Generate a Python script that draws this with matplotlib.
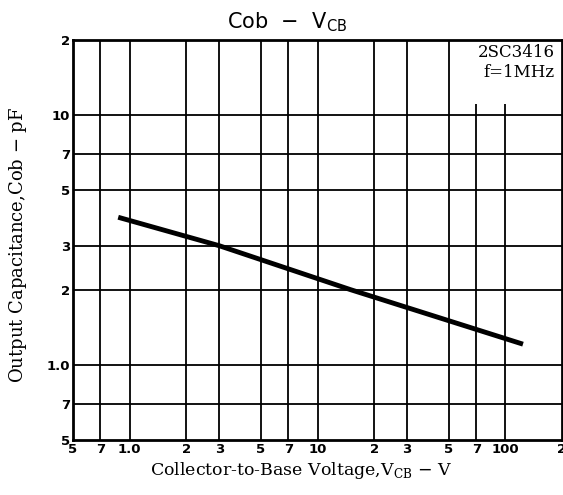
import matplotlib.pyplot as plt
from matplotlib.patches import Rectangle
from matplotlib.ticker import FixedLocator, FixedFormatter, NullLocator

# curva Cob - VCB
vcb = [0.87, 3.0, 15.0, 124.0]
cob = [3.9, 3.0, 2.0, 1.21]

# ticks
x_ticks = [0.5, 0.7, 1, 2, 3, 5, 7, 10, 20, 30, 50, 70, 100, 200]
x_labels = ['5', '7', '1.0', '2', '3', '5', '7', '10', '2', '3', '5', '7', '100', '2']
y_ticks = [0.5, 0.7, 1, 2, 3, 5, 7, 10, 20]
y_labels = ['5', '7', '1.0', '2', '3', '5', '7', '10', '2']

fig = plt.figure(figsize=(5.63, 4.95), dpi=100)
ax = fig.add_axes([73 / 563, 55 / 495, 489 / 563, 400 / 495])
ax.set_xscale('log')
ax.set_yscale('log')
ax.set_xlim(0.5, 200)
ax.set_ylim(0.5, 20)

# rejilla
for xv in x_ticks[1:-1]:
    ax.axvline(xv, color='black', lw=1.3, zorder=1)
for yv in y_ticks[1:-1]:
    ax.axhline(yv, color='black', lw=1.3, zorder=1)

ax.plot(vcb, cob, color='black', lw=3.5, solid_capstyle='butt', zorder=3)

for s in ax.spines.values():
    s.set_linewidth(2)

ax.xaxis.set_major_locator(FixedLocator(x_ticks))
ax.xaxis.set_major_formatter(FixedFormatter(x_labels))
ax.yaxis.set_major_locator(FixedLocator(y_ticks))
ax.yaxis.set_major_formatter(FixedFormatter(y_labels))
ax.xaxis.set_minor_locator(NullLocator())
ax.yaxis.set_minor_locator(NullLocator())
ax.tick_params(length=0, pad=2, labelsize=9.5)
for lab in ax.get_xticklabels() + ax.get_yticklabels():
    lab.set_fontweight('bold')

# recuadro del tipo (tapa la rejilla)
ax.add_patch(Rectangle((0.77, 0.84), 0.23, 0.16, transform=ax.transAxes,
                       facecolor='white', edgecolor='none', zorder=2))
ax.text(0.985, 0.99, '2SC3416\nf=1MHz', transform=ax.transAxes, ha='right', va='top',
        family='DejaVu Serif', fontsize=12, linespacing=1.2, zorder=4)

fig.text(0.51, 0.955, 'Cob  $-$  V$_{\\mathregular{CB}}$', ha='center', va='center', fontsize=15)
fig.text(0.535, 0.05, 'Collector-to-Base Voltage,V$_{\\mathregular{CB}}$ $-$ V', ha='center', va='center',
         family='DejaVu Serif', fontsize=12.5)
fig.text(0.032, 0.505, 'Output Capacitance,Cob $-$ pF', ha='center', va='center', rotation=90,
         family='DejaVu Serif', fontsize=13)

fig.savefig('out.png', dpi=100)
